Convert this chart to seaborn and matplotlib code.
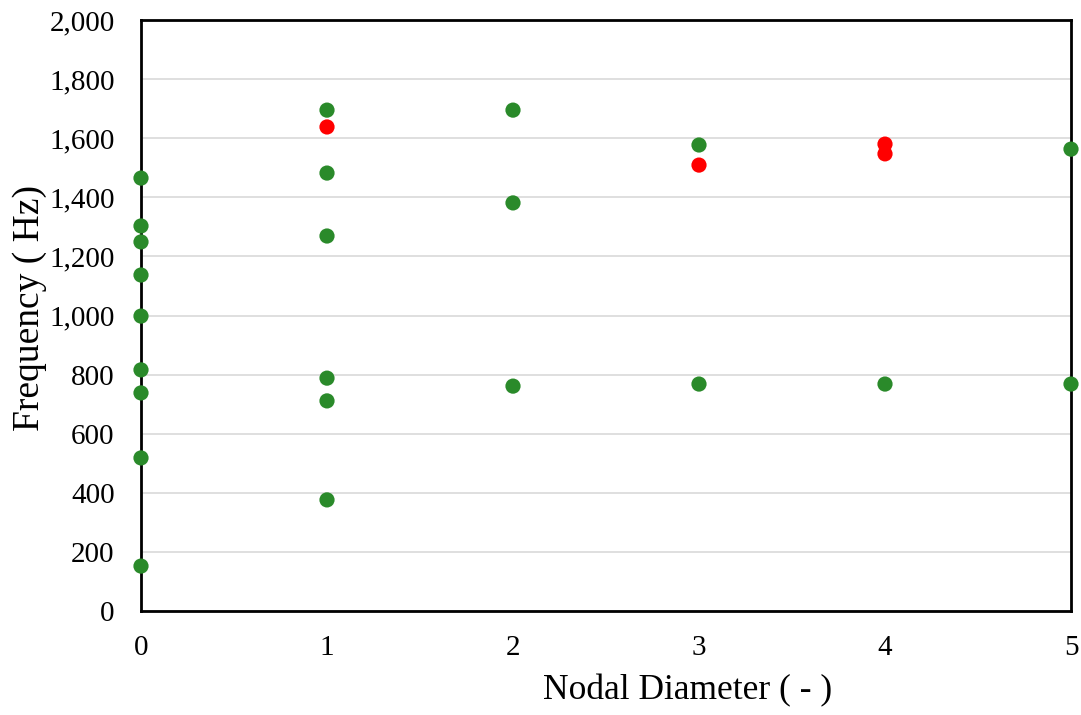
import matplotlib
matplotlib.use("Agg")
import matplotlib.pyplot as plt
import seaborn as sns
import pandas as pd
from matplotlib.ticker import FuncFormatter, MultipleLocator

nd_green = [0, 0, 0, 0, 0, 0, 0, 0, 0,
            1, 1, 1, 1, 1, 1,
            2, 2, 2,
            3, 3,
            4,
            5, 5]
freq_green = [1465, 1303, 1249, 1137, 998, 816, 738, 518, 152,
              1695, 1482, 1269, 788, 711, 376,
              1695, 1381, 761,
              1577, 768,
              768,
              1563, 768]
nd_red = [1, 3, 4, 4]
freq_red = [1638, 1509, 1580, 1547]

df = pd.DataFrame({
    "nd": nd_green + nd_red,
    "freq": freq_green + freq_red,
    "kind": ["green"] * len(nd_green) + ["red"] * len(nd_red),
})

sns.set_theme(style="white")
plt.rcParams["font.family"] = ["Liberation Serif", "DejaVu Serif"]

fig = plt.figure(figsize=(10.81, 7.15), dpi=100)
ax = fig.add_axes([141 / 1081, 1 - 611 / 715, (1071 - 141) / 1081, (611 - 20) / 715])

sns.scatterplot(data=df, x="nd", y="freq", hue="kind",
                palette={"green": "#2a8a2a", "red": "#ff0000"},
                s=120, linewidth=0, legend=False, ax=ax, clip_on=False, zorder=5)

ax.set_xlim(0, 5.0)
ax.set_ylim(0, 2000)
ax.yaxis.set_major_locator(MultipleLocator(200))
ax.xaxis.set_major_locator(MultipleLocator(1))
ax.yaxis.set_major_formatter(FuncFormatter(lambda v, p: f"{int(v):,}"))
ax.grid(axis="y", color="#d9d9d9", linewidth=1.2)
ax.set_axisbelow(True)
for sp in ax.spines.values():
    sp.set_visible(True)
    sp.set_color("black")
    sp.set_linewidth(2)
ax.tick_params(axis="y", labelsize=21, colors="black", length=0, pad=19)
ax.tick_params(axis="x", labelsize=21, colors="black", length=0, pad=17)
ax.set_xlabel("Nodal Diameter ( - )", fontsize=25.5, color="black")
ax.xaxis.set_label_coords(0.588, -0.135)
ax.xaxis.label.set_verticalalignment("center")
ax.set_ylabel("Frequency ( Hz)", fontsize=27, color="black")
ax.yaxis.set_label_coords(-0.12, 0.513)
ax.yaxis.label.set_verticalalignment("center")

fig.savefig("out.png", dpi=100)
